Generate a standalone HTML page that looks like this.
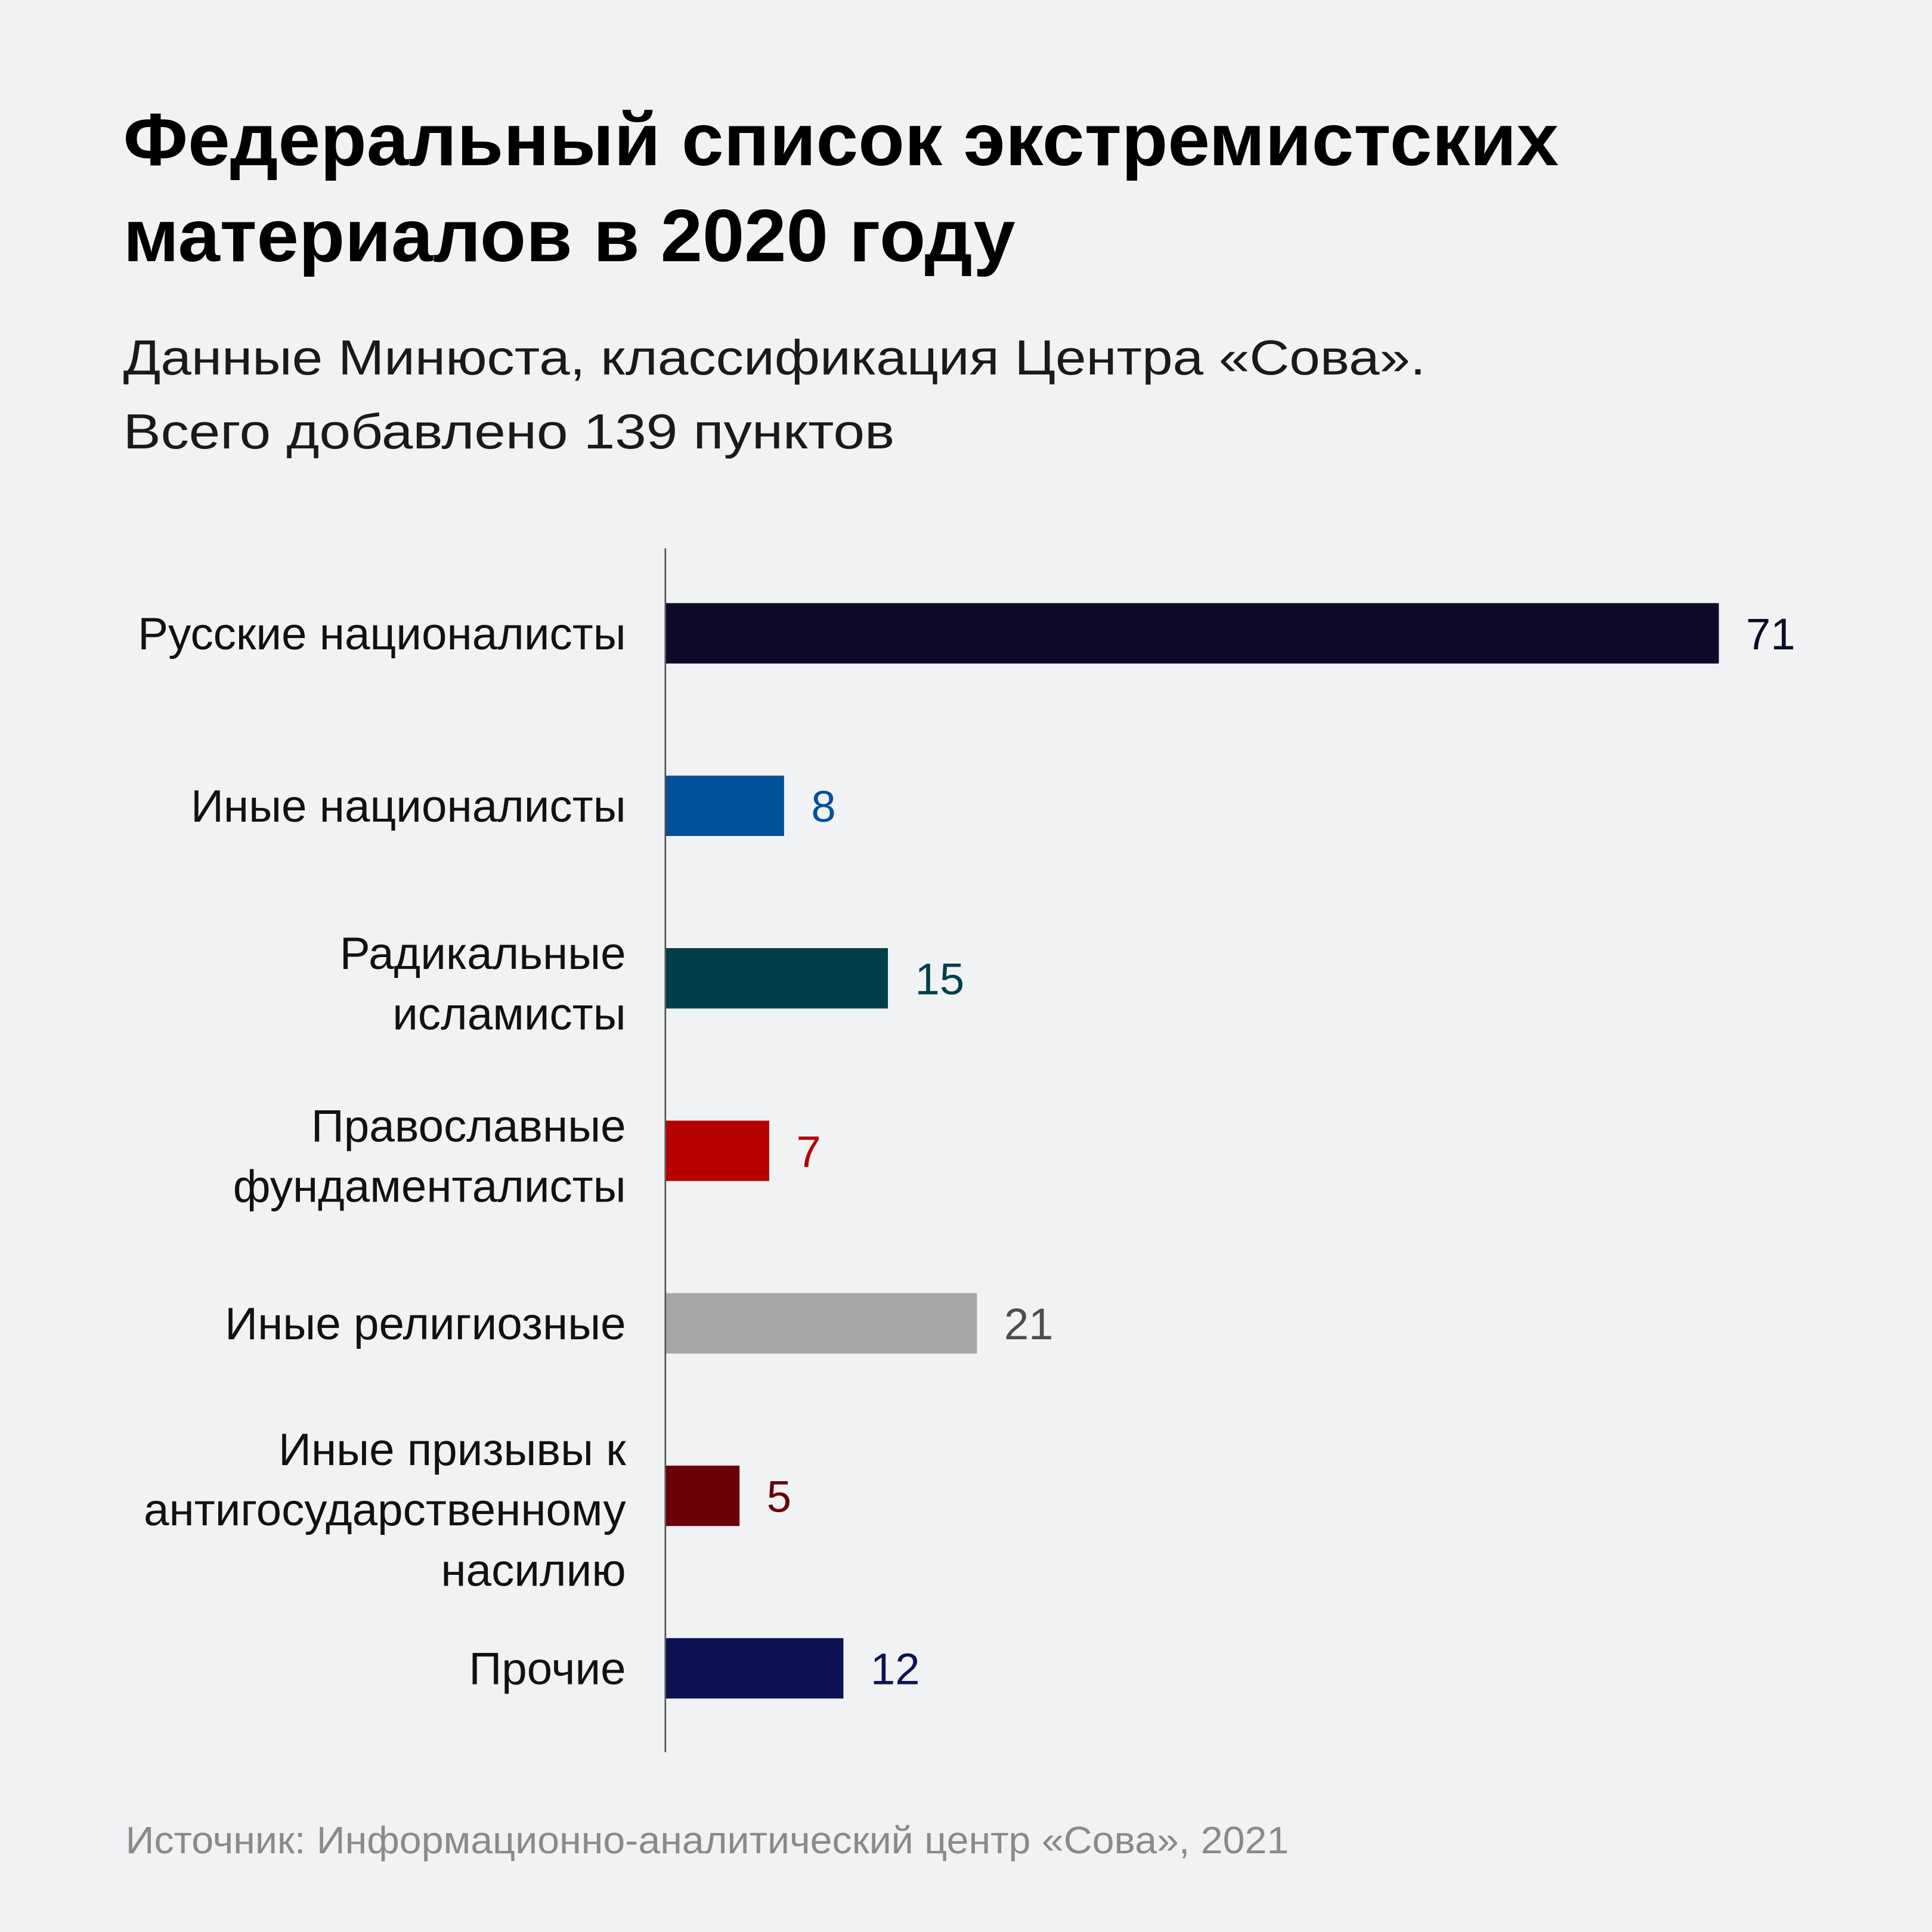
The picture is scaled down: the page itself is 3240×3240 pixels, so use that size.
<!DOCTYPE html>
<html><head><meta charset="utf-8">
<style>
html,body{margin:0;padding:0;background:#f1f2f4;}
svg{display:block;}
text{font-family:"Liberation Sans","DejaVu Sans",sans-serif;}
</style></head>
<body>
<svg id="chart" width="3240" height="3240" viewBox="0 0 1568 1568" xmlns="http://www.w3.org/2000/svg">
<rect width="1568" height="1568" fill="#f1f2f4"/>
<text x="100" y="134" font-size="60" font-weight="bold" fill="#000" textLength="1165" lengthAdjust="spacingAndGlyphs">Федеральный список экстремистских</text>
<text x="100" y="212" font-size="60" font-weight="bold" fill="#000" textLength="724" lengthAdjust="spacingAndGlyphs">материалов в 2020 году</text>
<text x="100" y="304" font-size="40" fill="#1a1a1a" textLength="1057" lengthAdjust="spacingAndGlyphs">Данные Минюста, классификация Центра «Сова».</text>
<text x="100" y="364" font-size="40" fill="#1a1a1a" textLength="626" lengthAdjust="spacingAndGlyphs">Всего добавлено 139 пунктов</text>
<g id="bars"></g>
<line x1="540" y1="445" x2="540" y2="1422" stroke="#555" stroke-width="1.3"/>
<text x="102" y="1504" font-size="31" fill="#8a8a8a" textLength="944" lengthAdjust="spacingAndGlyphs">Источник: Информационно-аналитический центр «Сова», 2021</text>
</svg>
<script>
const categories = [["Русские националисты"],["Иные националисты"],["Радикальные","исламисты"],["Православные","фундаменталисты"],["Иные религиозные"],["Иные призывы к","антигосударственному","насилию"],["Прочие"]];
const values = [71, 8, 15, 7, 21, 5, 12];
const colors = ["#0d0a29","#00509a","#003f4a","#b70000","#a6a6a6","#6b0008","#0b1355"];
const labelColors = ["#0d0a29","#00509a","#003f4a","#b70000","#4d4d4d","#6b0008","#0b1355"];

const NS = "http://www.w3.org/2000/svg";
const x0 = 540, pxPerUnit = (1395 - 540) / 71;
function xScale(v){ return x0 + v * pxPerUnit; }
function yCenter(i){ return 514 + i * 140; }
const g = document.getElementById("bars");
values.forEach((v, i) => {
  const cy = yCenter(i);
  const r = document.createElementNS(NS, "rect");
  r.setAttribute("x", x0);
  r.setAttribute("y", cy - 24.5);
  r.setAttribute("width", xScale(v) - x0);
  r.setAttribute("height", 49);
  r.setAttribute("fill", colors[i]);
  
  
  g.appendChild(r);
  const t = document.createElementNS(NS, "text");
  t.setAttribute("x", xScale(v) + 22);
  t.setAttribute("y", cy + 13);
  t.setAttribute("font-size", "36");
  t.setAttribute("fill", labelColors[i]);
  t.textContent = v;
  
  
  g.appendChild(t);
  const lines = categories[i];
  const lh = 49;
  const start = cy - (lines.length - 1) * lh / 2 + (lines.length > 1 ? 4 : 0) + (lines.length > 2 ? 7 : 0);
  lines.forEach((ln, k) => {
    const c = document.createElementNS(NS, "text");
    c.setAttribute("x", 508);
    c.setAttribute("y", start + k * lh + 13);
    c.setAttribute("font-size", "37");
    c.setAttribute("text-anchor", "end");
    c.setAttribute("fill", "#111");
    c.textContent = ln;
    
    
    g.appendChild(c);
  });
});
</script>
</body></html>
